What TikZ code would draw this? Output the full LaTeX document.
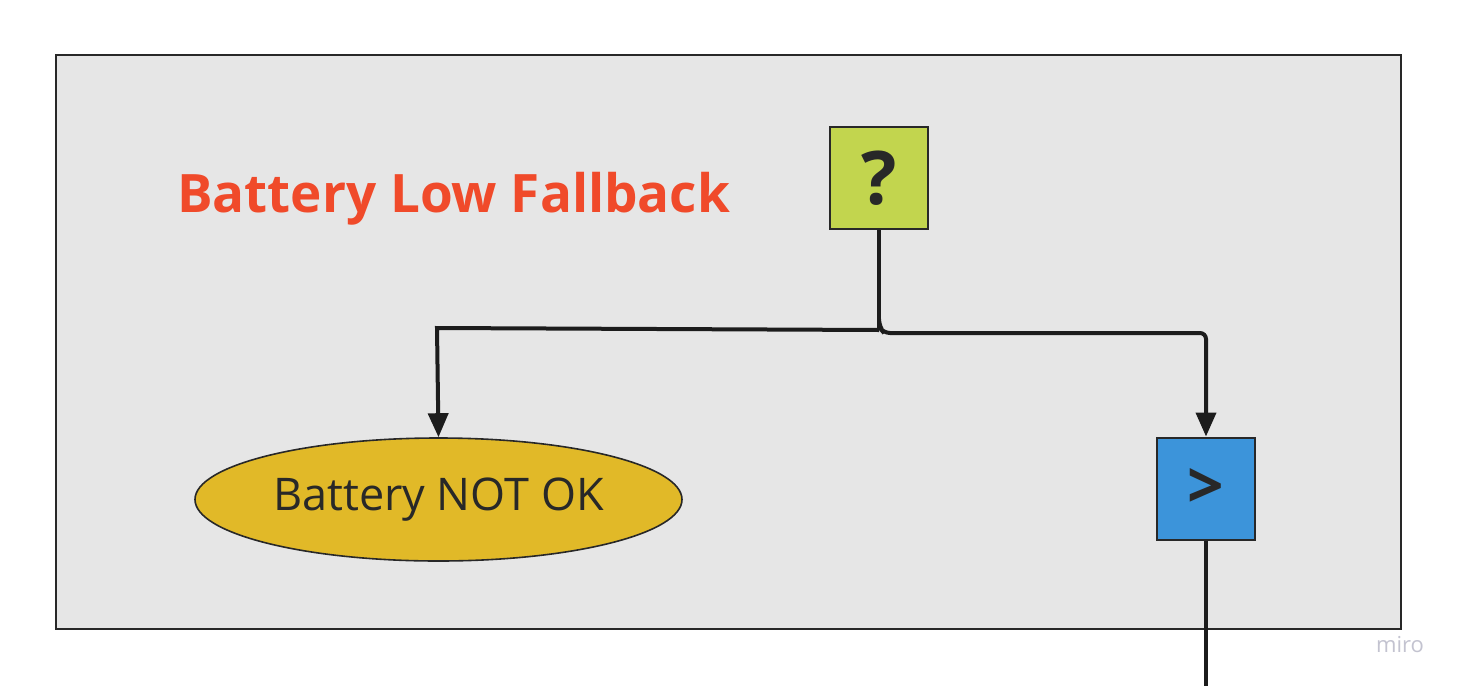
\documentclass[tikz,border=0pt]{standalone}
\usepackage{fontspec}
\setmainfont{Open Sans}
\usetikzlibrary{shapes.geometric,arrows.meta}
\definecolor{panelgray}{RGB}{230,230,230}
\definecolor{titlered}{RGB}{240,74,42}
\definecolor{dark}{RGB}{40,40,40}
\definecolor{linedark}{RGB}{28,28,28}
\definecolor{limegreen}{RGB}{194,213,78}
\definecolor{boxblue}{RGB}{60,148,218}
\definecolor{ellyellow}{RGB}{225,185,40}
\definecolor{mirogray}{RGB}{195,195,208}
\tikzset{
  panel/.style={draw=dark, line width=2pt, fill=panelgray},
  ctrlbox/.style={draw=dark, line width=2pt, minimum width=98pt, minimum height=102pt, inner sep=0pt, text=dark},
  leafnode/.style={ellipse, draw=dark, line width=1.6pt, fill=ellyellow, minimum width=487pt, minimum height=123pt, inner sep=0pt, font=\fontsize{45}{45}\selectfont, text=dark},
  conn/.style={draw=linedark, line width=4pt},
  arr/.style={conn, -{Triangle[length=24pt, width=20pt]}},
}
\begin{document}
\begin{tikzpicture}[x=1pt, y=-1pt]
\useasboundingbox (0,0) rectangle (1457,686);
\fill[white] (0,0) rectangle (1457,686);
\draw[panel] (56,55) rectangle (1401,629);
\node[anchor=base west, font=\bfseries\fontsize{53}{53}\selectfont, text=titlered, inner sep=0pt] (title) at (177,212) {Battery Low Fallback};
\node[ctrlbox, fill=limegreen, font=\bfseries\fontsize{74}{74}\selectfont] (fb) at (879,178) {?};
\node[ctrlbox, fill=boxblue, font=\bfseries\fontsize{64}{64}\selectfont] (seq) at (1206,488.5) {>};
\node[leafnode] (bat) at (438.5,499.5) {Battery NOT OK};
\coordinate (jn) at (879,330);
\coordinate (endpt) at (1206,686);
\draw[conn] (fb.south) -- (jn);
\draw[arr] (jn) -- (437,328) -- (bat.north);
\draw[arr, rounded corners=8pt] (879,322) -- (879,327) [rounded corners=6pt] -- (884,333) -- (1206,333) -- (seq.north);
\draw[conn] (seq.south) -- (endpt);
\node[anchor=base, font=\fontsize{22}{22}\selectfont, text=mirogray, inner sep=0pt] (miro) at (1400,652) {miro};
\end{tikzpicture}
\end{document}
